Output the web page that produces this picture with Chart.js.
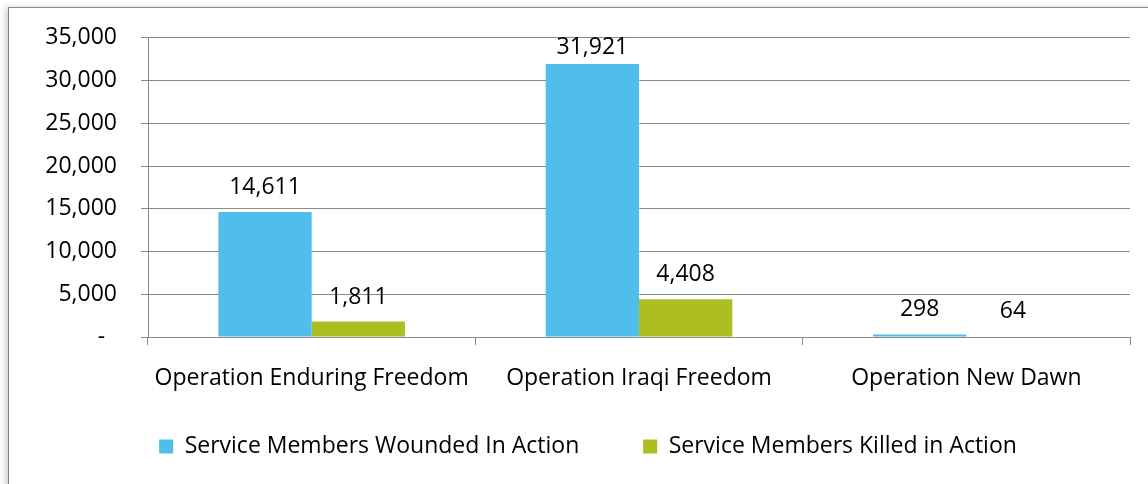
<!DOCTYPE html>
<html>
<head>
<meta charset="utf-8">
<script src="https://cdn.jsdelivr.net/npm/chart.js@4/dist/chart.umd.min.js"></script>
<style>
    html, body { margin: 0; padding: 0; background: #fff; }
    body { width: 1148px; height: 484px; position: relative; overflow: hidden; }
    .frame {
        position: absolute; left: 8px; top: 7px; width: 1200px; height: 520px;
        border-left: 1px solid #7a7a7a; border-top: 1px solid #8c8c8c;
        box-shadow: -3px 0 6px rgba(0, 0, 0, 0.18);
        background: #fff;
    }
    #chartWrap { position: absolute; left: 0; top: 0; width: 1148px; height: 484px; }
</style>
</head>
<body>
<div class="frame"></div>
<div id="chartWrap"><canvas id="casualtyChart"></canvas></div>
<script>
// Chart data
const categories = ['Operation Enduring Freedom', 'Operation Iraqi Freedom', 'Operation New Dawn'];
const seriesNames = ['Service Members Wounded In Action', 'Service Members Killed in Action'];
const woundedValues = [14611, 31921, 298];
const killedValues = [1811, 4408, 64];
const yTicks = [0, 5000, 10000, 15000, 20000, 25000, 30000, 35000];

const FONT = '"Open Sans", "Noto Sans", sans-serif';
const GRID = '#898989';

// Format numbers like the Excel accounting format
function formatNumber(v) {
    return v === 0 ? '-  ' : v.toLocaleString('en-US');
}

// Value labels above each bar
const barLabels = {
    id: 'barLabels',
    afterDatasetsDraw(chart) {
        const ctx = chart.ctx;
        const top = chart.chartArea.top;
        ctx.save();
        ctx.font = '23px ' + FONT;
        ctx.fillStyle = '#000';
        ctx.textAlign = 'center';
        ctx.textBaseline = 'alphabetic';
        chart.data.datasets.forEach((ds, i) => {
            chart.getDatasetMeta(i).data.forEach((bar, j) => {
                const y = Math.max(bar.y - 18, top + 16);
                ctx.fillText(ds.data[j].toLocaleString('en-US'), bar.x, y);
            });
        });
        ctx.restore();
    }
};

document.addEventListener('DOMContentLoaded', function() {
    const ctx = document.getElementById('casualtyChart').getContext('2d');
    new Chart(ctx, {
        type: 'bar',
        data: {
            labels: categories,
            datasets: [{
                label: seriesNames[0],
                data: woundedValues,
                backgroundColor: '#50BDEB',
                categoryPercentage: 0.57,
                barPercentage: 1.0
            }, {
                label: seriesNames[1],
                data: killedValues,
                backgroundColor: '#ADBE23',
                categoryPercentage: 0.57,
                barPercentage: 1.0
            }]
        },
        options: {
            responsive: true,
            maintainAspectRatio: false,
            animation: false,
            layout: { padding: { left: 46, right: 18, top: 25, bottom: 16 } },
            plugins: {
                tooltip: { enabled: false },
                legend: {
                    position: 'bottom',
                    labels: {
                        font: { family: FONT, size: 23 },
                        color: '#000',
                        boxWidth: 14,
                        boxHeight: 14,
                        padding: 28,
                        // extra room after the first entry, like the original spacing
                        generateLabels(chart) {
                            const items = Chart.defaults.plugins.legend.labels.generateLabels(chart);
                            items.forEach((item, i) => {
                                if (i < items.length - 1) item.text += '      ';
                            });
                            return items;
                        }
                    }
                }
            },
            scales: {
                x: {
                    grid: { display: true, drawOnChartArea: false, drawTicks: true, tickLength: 8, color: GRID, offset: true },
                    border: { display: true, color: GRID },
                    ticks: { font: { family: FONT, size: 23 }, color: '#000', padding: 20, maxRotation: 0 },
                    afterFit(scale) { scale.height = 70; }
                },
                y: {
                    min: 0,
                    max: 35000,
                    afterBuildTicks(scale) { scale.ticks = yTicks.map(v => ({ value: v })); },
                    grid: { color: GRID, tickLength: 7 },
                    border: { display: true, color: GRID },
                    ticks: { font: { family: FONT, size: 23 }, color: '#000', padding: 24, callback: formatNumber },
                    afterFit(scale) { scale.width = 102; }
                }
            }
        },
        plugins: [barLabels]
    });
});
</script>
</body>
</html>
